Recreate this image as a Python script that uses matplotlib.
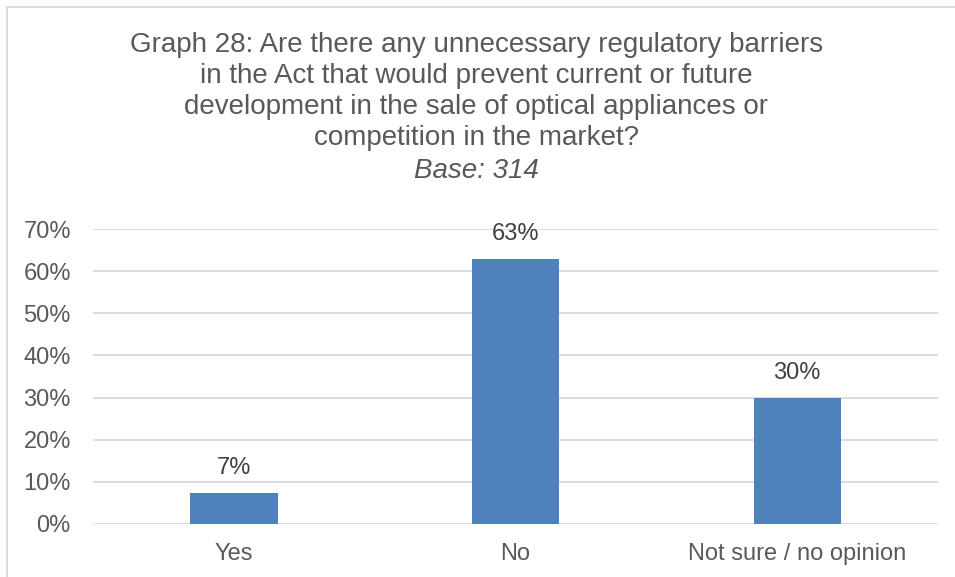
import matplotlib.pyplot as plt
from matplotlib.patches import Rectangle
from matplotlib.ticker import PercentFormatter

plt.rcParams['font.family'] = ['Liberation Sans', 'DejaVu Sans']

categories = ['Yes', 'No', 'Not sure / no opinion']
shares = [7.3, 62.8, 29.8]
labels = ['7%', '63%', '30%']

fig = plt.figure(figsize=(9.55, 5.77), dpi=100)
ax = fig.add_axes([0.0974, 0.0919, 0.8848, 0.5112])

x = range(len(categories))
bars = ax.bar(x, shares, width=0.31, color='#4f81bd', zorder=3)
for rect, lab in zip(bars, labels):
    ax.annotate(lab, (rect.get_x() + rect.get_width() / 2, rect.get_height()),
                xytext=(0, 18.5), textcoords='offset points',
                ha='center', va='center', fontsize=17, color='#404040')

ax.set_xlim(-0.5, 2.5)
ax.set_ylim(0, 70)
ax.set_yticks(range(0, 71, 10))
ax.yaxis.set_major_formatter(PercentFormatter(decimals=0))
ax.set_xticks(list(x))
ax.set_xticklabels(categories)
ax.tick_params(axis='both', length=0, labelsize=17, labelcolor='#595959')
ax.tick_params(axis='x', pad=14)
ax.tick_params(axis='y', pad=16)
ax.grid(axis='y', color='#d9d9d9', linewidth=1.3, zorder=0)
for s in ax.spines.values():
    s.set_visible(False)

fig.text(0.4985, 0.8414,
         'Graph 28: Are there any unnecessary regulatory barriers\n'
         'in the Act that would prevent current or future\n'
         'development in the sale of optical appliances or\n'
         'competition in the market?',
         ha='center', va='center', fontsize=20, color='#595959', linespacing=1.235)
fig.text(0.4985, 0.7045, 'Base: 314', ha='center', va='center',
         fontsize=20, color='#595959', style='italic')

# outer chart frame
fig.patches.append(Rectangle((7 / 955, -0.05), 1.1, 1 - 7 / 577 + 0.05,
                             transform=fig.transFigure, fill=False,
                             edgecolor='#d9d9d9', linewidth=1.3))

fig.savefig('out.png', dpi=100)
